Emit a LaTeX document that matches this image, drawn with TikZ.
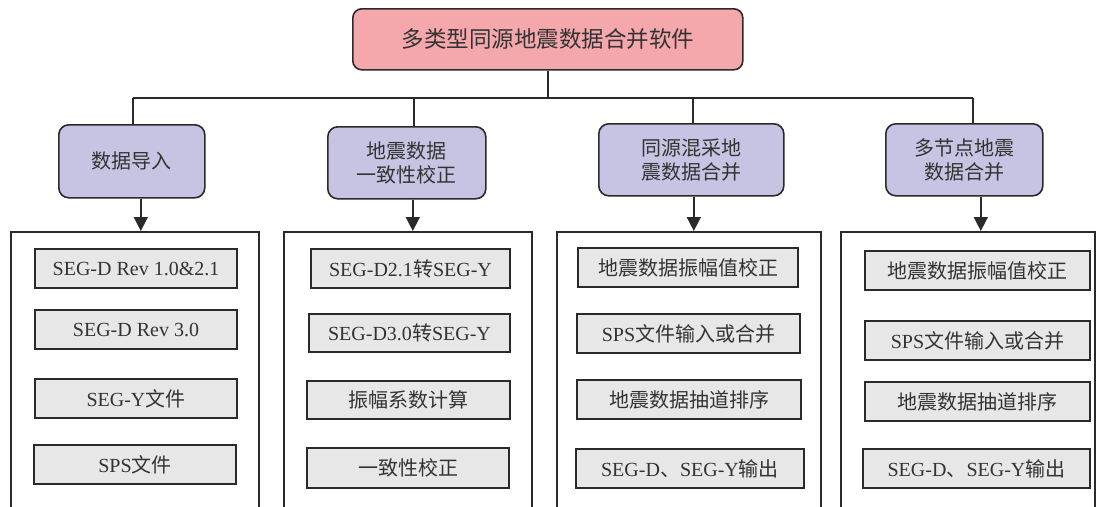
\documentclass[tikz,border=0pt]{standalone}
\usepackage{fontspec}
\setmainfont{Liberation Serif}
\newfontfamily\cjk{Noto Sans CJK SC}
\usetikzlibrary{arrows.meta,calc}
\definecolor{toppink}{HTML}{F4A8AC}
\definecolor{midlav}{HTML}{C6C4E2}
\definecolor{itemgray}{HTML}{E7E7E7}
\definecolor{lc}{HTML}{2A2A2A}
\definecolor{tc}{HTML}{333333}
\newcommand\zh[1]{{\cjk #1}}
\tikzset{
  topbox/.style={draw=lc, line width=1.6pt, rounded corners=9pt, fill=toppink, anchor=north west,
    text=tc, font=\cjk\fontsize{22.5}{27}\selectfont, inner sep=0pt},
  midbox/.style={draw=lc, line width=1.6pt, rounded corners=10pt, fill=midlav, anchor=north west,
    text=tc, align=center, font=\cjk\fontsize{20}{24}\selectfont, inner sep=0pt},
  cont/.style={draw=lc, line width=1.6pt, anchor=north west, minimum height=320pt, inner sep=0pt},
  item/.style={draw=lc, line width=2pt, fill=itemgray, anchor=north west, text=tc,
    font=\fontsize{20}{24}\selectfont, inner sep=0pt},
  link/.style={draw=lc, line width=1.6pt},
  arr/.style={link, -{Triangle[length=14pt,width=14pt]}}
}
\newcommand\itm[6]{\node[item, minimum width=#4pt, minimum height=#5pt] (#1) at (#2,#3) {#6};}
\begin{document}
\begin{tikzpicture}[x=1pt,y=-1pt]
\useasboundingbox (0,0) rectangle (1097,506);
\clip (0,0) rectangle (1097,506);

% top
\node[topbox, minimum width=390pt, minimum height=61pt] (top) at (352,8) {多类型同源地震数据合并软件};

% middle boxes
\node[midbox, minimum width=146pt, minimum height=73pt] (b1) at (58,124) {数据导入};
\node[midbox, minimum width=158pt, minimum height=72pt] (b2) at (327,126) {地震数据\\一致性校正};
\node[midbox, minimum width=185pt, minimum height=72pt] (b3) at (598,123) {同源混采地\\震数据合并};
\node[midbox, minimum width=157pt, minimum height=72pt] (b4) at (885,123) {多节点地震\\数据合并};

% containers
\node[cont, minimum width=248pt] (c1) at (10,231) {};
\node[cont, minimum width=248pt] (c2) at (283,231) {};
\node[cont, minimum width=264pt] (c3) at (556,231) {};
\node[cont, minimum width=254pt] (c4) at (840,231) {};

% bus
\coordinate (busL) at (133,98);
\coordinate (busB) at (414,98);
\coordinate (busC) at (693,98);
\coordinate (busR) at (973,98);
\draw[link] (top.south) -- (top.south |- busL);
\draw[link] (busL) -- (busR);
\draw[link] (busL) -- (busL |- b1.north);
\draw[link] (busB) -- (busB |- b2.north);
\draw[link] (busC) -- (busC |- b3.north);
\draw[link] (busR) -- (busR |- b4.north);

% arrows
\coordinate (a1) at ([xshift=9pt]b1.south);
\coordinate (a2) at ([xshift=6pt]b2.south);
\coordinate (a3) at ([xshift=2.5pt]b3.south);
\coordinate (a4) at ([xshift=16.5pt]b4.south);
\draw[arr] (a1) -- (a1 |- c1.north);
\draw[arr] (a2) -- (a2 |- c2.north);
\draw[arr] (a3) -- (a3 |- c3.north);
\draw[arr] (a4) -- (a4 |- c4.north);

% items column 1
\itm{i11}{34}{248}{202}{39}{SEG-D Rev 1.0\&2.1}
\itm{i12}{34}{309}{202}{39}{SEG-D Rev 3.0}
\itm{i13}{34}{378}{202}{39}{SEG-Y\zh{文件}}
\itm{i14}{33}{444}{202}{39}{SPS\zh{文件}}
% column 2
\itm{i21}{310}{248}{199}{39}{SEG-D2.1\zh{转}SEG-Y}
\itm{i22}{308}{313}{201}{38}{SEG-D3.0\zh{转}SEG-Y}
\itm{i23}{306}{380}{203}{38}{\zh{振幅系数计算}}
\itm{i24}{306}{447}{202}{40}{\zh{一致性校正}}
% column 3
\itm{i31}{577}{247}{220}{39}{\zh{地震数据振幅值校正}}
\itm{i32}{576}{313}{223}{39}{SPS\zh{文件输入或合并}}
\itm{i33}{576}{379}{224}{39}{\zh{地震数据抽道排序}\hspace{26pt}}
\itm{i34}{575}{448}{228}{39}{SEG-D\zh{、}SEG-Y\zh{输出}}
% column 4
\itm{i41}{864}{250}{225}{39}{\zh{地震数据振幅值校正}}
\itm{i42}{864}{320}{225}{39}{SPS\zh{文件输入或合并}}
\itm{i43}{864}{381}{225}{39}{\zh{地震数据抽道排序}}
\itm{i44}{862}{448}{227}{39}{SEG-D\zh{、}SEG-Y\zh{输出}}
\end{tikzpicture}
\end{document}
